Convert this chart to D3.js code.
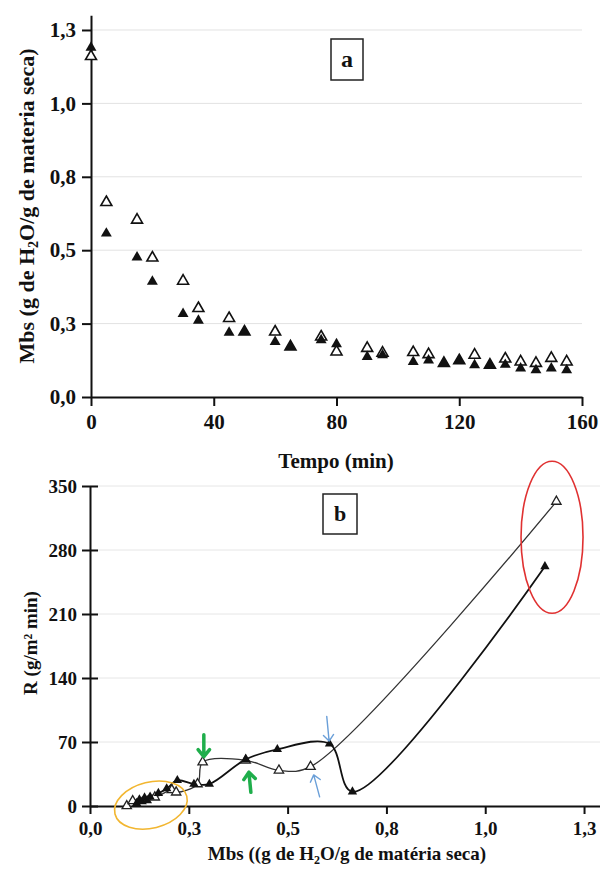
<!DOCTYPE html>
<html><head><meta charset="utf-8">
<script src="https://cdn.jsdelivr.net/npm/d3@7"></script>
<style>
body{margin:0;background:#fff}
text{font-family:"Liberation Serif","Times New Roman",serif;font-weight:bold;fill:#111}
</style>
</head><body>
<svg id="c" width="600" height="869"></svg>
<script>
// ---------- Panel a data ----------
const timeMin   = [0,5,15,20,30,35,45,50,60,65,75,80,90,95,105,110,115,120,125,130,135,140,145,150,155];
const mbsOpen   = [1.16,0.663,0.603,0.474,0.395,0.302,0.268,0.222,0.222,0.171,0.205,0.154,0.166,0.150,0.152,0.145,0.115,0.124,0.143,0.109,0.130,0.120,0.115,0.132,0.120];
const mbsFilled = [1.19,0.557,0.476,0.393,0.283,0.260,0.219,0.222,0.188,0.171,0.194,0.180,0.137,0.143,0.120,0.125,0.115,0.124,0.109,0.109,0.110,0.098,0.092,0.098,0.092];
const aXTicks = [0,40,80,120,160];
const aXTickLabels = ["0","40","80","120","160"];
const aYTicks = [0,0.25,0.5,0.75,1.0,1.25];
const aYTickLabels = ["0,0","0,3","0,5","0,8","1,0","1,3"];

// ---------- Panel b data ----------
const bMbsOpen   = [0.093,0.108,0.164,0.207,0.218,0.272,0.285,0.394,0.478,0.558,1.18];
const bROpen     = [0,5.5,9.5,17.5,15,24,48,50,39,43,333];
const bMbsFilled = [0.118,0.125,0.132,0.138,0.145,0.152,0.173,0.194,0.221,0.263,0.302,0.394,0.474,0.606,0.664,1.151];
const bRFilled   = [3,7,5,9,6,10,14,19,28,24,24,51,62,68,15.6,262];
const bXTicks = [0,0.25,0.5,0.75,1.0,1.25];
const bXTickLabels = ["0,0","0,3","0,5","0,8","1,0","1,3"];
const bYTicks = [0,70,140,210,280,350];
const bYTickLabels = ["0","70","140","210","280","350"];

const svg = d3.select("#c");

// ================= Panel a =================
const xA = d3.scaleLinear([0,160],[91,582]);
const yA = d3.scaleLinear([0,1.3],[397,15.3]);
const gA = svg.append("g");

gA.append("g").selectAll("line").data(aYTicks.filter(d=>d>0)).join("line")
  .attr("x1",xA(0)).attr("x2",xA(160)).attr("y1",d=>yA(d)).attr("y2",d=>yA(d))
  .attr("stroke","#e2e2e2").attr("stroke-width",1);

const axYA = gA.append("g").attr("transform",`translate(${xA(0)},0)`)
  .call(d3.axisLeft(yA).tickValues(aYTicks).tickFormat((d,i)=>aYTickLabels[i]).tickSizeInner(9).tickSizeOuter(0).tickPadding(6));
const axXA = gA.append("g").attr("transform",`translate(0,${yA(0)})`)
  .call(d3.axisBottom(xA).tickValues(aXTicks).tickFormat((d,i)=>aXTickLabels[i]).tickSizeInner(9).tickSizeOuter(0).tickPadding(8));
[axYA,axXA].forEach(a=>{
  a.selectAll("path,line").attr("stroke","#111").attr("stroke-width",2);
  a.selectAll("text").style("font-size","21px").style("font-family",'"Liberation Serif",serif').style("font-weight","bold").attr("fill","#111");
});

const triA = d3.symbol(d3.symbolTriangle, 52);
gA.append("g").selectAll("path").data(timeMin).join("path")
  .attr("d",triA).attr("transform",(d,i)=>`translate(${xA(d)},${yA(mbsOpen[i])})`)
  .attr("fill","#fff").attr("stroke","#111").attr("stroke-width",1.6);
gA.append("g").selectAll("path").data(timeMin).join("path")
  .attr("d",triA).attr("transform",(d,i)=>`translate(${xA(d)},${yA(mbsFilled[i])})`)
  .attr("fill","#111");

// label box a
gA.append("rect").attr("x",331).attr("y",39).attr("width",32).attr("height",41)
  .attr("fill","#fff").attr("stroke","#222").attr("stroke-width",1.5);
gA.append("text").attr("x",347).attr("y",67).attr("text-anchor","middle").style("font-size","24px").text("a");

// titles a
gA.append("text").attr("x",336).attr("y",468).attr("text-anchor","middle").style("font-size","21px").text("Tempo (min)");
const tA = gA.append("text").attr("transform","translate(34,206) rotate(-90)").attr("text-anchor","middle").style("font-size","22px");
tA.append("tspan").text("Mbs (g de H");
tA.append("tspan").attr("dy",4).style("font-size","14px").text("2");
tA.append("tspan").attr("dy",-4).text("O/g de materia seca)");

// ================= Panel b =================
const xB = d3.scaleLinear([0,1.3],[90,603.8]);
const yB = d3.scaleLinear([0,350],[806,486]);
const gB = svg.append("g");

gB.append("g").selectAll("line").data(bYTicks.filter(d=>d>0)).join("line")
  .attr("x1",xB(0)).attr("x2",600).attr("y1",d=>yB(d)).attr("y2",d=>yB(d))
  .attr("stroke","#e6e6e6").attr("stroke-width",1);

const axYB = gB.append("g").attr("transform",`translate(${xB(0)},0)`)
  .call(d3.axisLeft(yB).tickValues(bYTicks).tickFormat((d,i)=>bYTickLabels[i]).tickSizeInner(8).tickSizeOuter(0).tickPadding(5));
axYB.selectAll(".tick line").attr("x1",8);
const axXB = gB.append("g").attr("transform",`translate(0,${yB(0)})`)
  .call(d3.axisBottom(xB).tickValues(bXTicks).tickFormat((d,i)=>bXTickLabels[i]).tickSizeInner(8).tickSizeOuter(0).tickPadding(8));
[axYB,axXB].forEach(a=>{
  a.selectAll("path,line").attr("stroke","#111").attr("stroke-width",2);
  a.selectAll("text").style("font-size","19px").style("font-family",'"Liberation Serif",serif').style("font-weight","bold").attr("fill","#111");
});

const line = d3.line().curve(d3.curveCatmullRom.alpha(0.5));
gB.append("path").attr("d",line(bMbsOpen.map((d,i)=>[xB(d),yB(bROpen[i])])))
  .attr("fill","none").attr("stroke","#333").attr("stroke-width",1.3);
gB.append("path").attr("d",line(bMbsFilled.map((d,i)=>[xB(d),yB(bRFilled[i])])))
  .attr("fill","none").attr("stroke","#111").attr("stroke-width",1.8);

const triB = d3.symbol(d3.symbolTriangle, 38);
gB.append("g").selectAll("path").data(bMbsOpen).join("path")
  .attr("d",triB).attr("transform",(d,i)=>`translate(${xB(d)},${yB(bROpen[i])})`)
  .attr("fill","#fff").attr("stroke","#222").attr("stroke-width",1.3);
gB.append("g").selectAll("path").data(bMbsFilled).join("path")
  .attr("d",triB).attr("transform",(d,i)=>`translate(${xB(d)},${yB(bRFilled[i])})`)
  .attr("fill","#111");

// annotations
gB.append("ellipse").attr("cx",xB(1.169)).attr("cy",yB(294)).attr("rx",31).attr("ry",76)
  .attr("fill","none").attr("stroke","#e03131").attr("stroke-width",1.6);
gB.append("ellipse").attr("transform",`translate(${xB(0.154)},${yB(1)}) rotate(-14)`).attr("rx",37).attr("ry",23)
  .attr("fill","none").attr("stroke","#f2b630").attr("stroke-width",1.6);

function arrow(x1,r1,x2,r2,color,w,head){
  const p1=[xB(x1),yB(r1)], p2=[xB(x2),yB(r2)];
  const ang=Math.atan2(p2[1]-p1[1],p2[0]-p1[0]);
  const a1=ang+Math.PI*0.78, a2=ang-Math.PI*0.78;
  const h1=[p2[0]+head*Math.cos(a1),p2[1]+head*Math.sin(a1)];
  const h2=[p2[0]+head*Math.cos(a2),p2[1]+head*Math.sin(a2)];
  gB.append("path").attr("d",`M${p1}L${p2}M${h1}L${p2}L${h2}`)
    .attr("fill","none").attr("stroke",color).attr("stroke-width",w).attr("stroke-linecap","round").attr("stroke-linejoin","round");
}
arrow(0.288,78,0.288,54,"#1fae4b",3.5,9);
arrow(0.407,15,0.402,37,"#1fae4b",3.5,9);
arrow(0.599,98,0.605,71,"#6a9fd8",1.4,8);
arrow(0.581,10,0.566,34,"#6a9fd8",1.4,8);

// label box b
gB.append("rect").attr("x",323).attr("y",494).attr("width",34).attr("height",40)
  .attr("fill","#fff").attr("stroke","#222").attr("stroke-width",1.5);
gB.append("text").attr("x",340).attr("y",521).attr("text-anchor","middle").style("font-size","22px").text("b");

// titles b
const tB = gB.append("text").attr("x",347).attr("y",860).attr("text-anchor","middle").style("font-size","19px");
tB.append("tspan").text("Mbs ((g de H");
tB.append("tspan").attr("dy",4).style("font-size","12px").text("2");
tB.append("tspan").attr("dy",-4).text("O/g de matéria seca)");
gB.append("text").attr("transform","translate(37,643) rotate(-90)").attr("text-anchor","middle").style("font-size","19px").text("R (g/m² min)");
</script>
</body></html>
